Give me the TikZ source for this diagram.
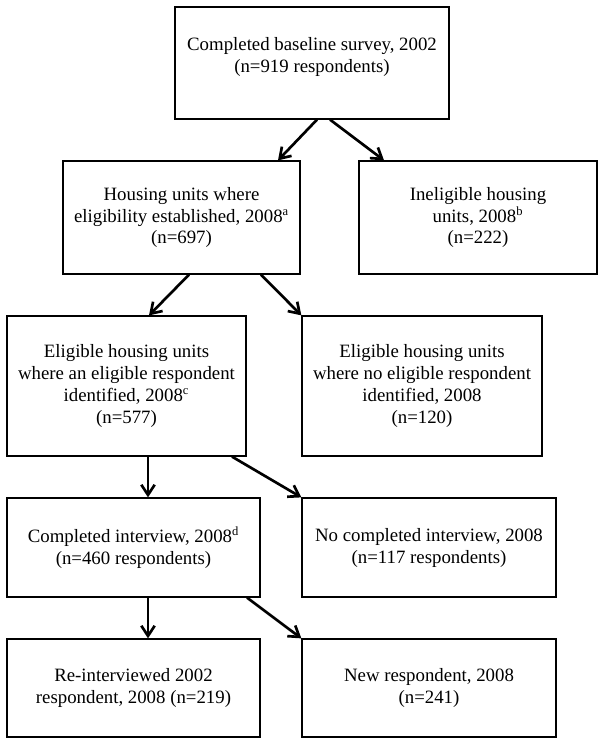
\documentclass[tikz,border=0pt]{standalone}
\usepackage{fontspec}
\setmainfont{Liberation Serif}
\usetikzlibrary{arrows.meta}
\def\pxu{0.6375pt}

\begin{document}
\begin{tikzpicture}[x=\pxu,y=-\pxu,
  txt/.style={align=center,inner sep=0pt,font=\fontsize{12}{14}\selectfont},
  box/.style={txt,draw,line width=0.8pt},
  flow/.style={line width=1.7pt,-{Straight Barb[length=6.5pt,width=8.5pt,line width=1.7pt]}}]
  \useasboundingbox (0,0) rectangle (604,745);
  % boxes
  \node[box,minimum width=274*\pxu,minimum height=112*\pxu] (baseline) at (312,63) {};
  \node[txt] (baselinetext) at (312,56.5) {Completed baseline survey, 2002\\(n=919 respondents)};
  \node[box,minimum width=237*\pxu,minimum height=113*\pxu] (established) at (181.5,217.5) {Housing units where\\eligibility established, 2008\textsuperscript{a}\\(n=697)};
  \node[box,minimum width=238*\pxu,minimum height=113*\pxu] (ineligible) at (478,217.5) {Ineligible housing\\units, 2008\textsuperscript{b}\\(n=222)};
  \node[box,minimum width=239*\pxu,minimum height=140*\pxu] (identified) at (126.5,386) {Eligible housing units\\where an eligible respondent\\identified, 2008\textsuperscript{c}\\(n=577)};
  \node[box,minimum width=240*\pxu,minimum height=140*\pxu] (notidentified) at (422,386) {Eligible housing units\\where no eligible respondent\\identified, 2008\\(n=120)};
  \node[box,minimum width=253*\pxu,minimum height=99*\pxu] (interview) at (133.5,547.5) {Completed interview, 2008\textsuperscript{d}\\(n=460 respondents)};
  \node[box,minimum width=254*\pxu,minimum height=99*\pxu] (nointerview) at (429,547.5) {No completed interview, 2008\\(n=117 respondents)};
  \node[box,minimum width=253*\pxu,minimum height=98*\pxu] (reinterviewed) at (133.5,688) {Re-interviewed 2002\\respondent, 2008 (n=219)};
  \node[box,minimum width=254*\pxu,minimum height=98*\pxu] (newresp) at (429,688) {New respondent, 2008\\(n=241)};
  % arrows
  \draw[flow] ([xshift=5*\pxu]baseline.south) -- ([xshift=96.5*\pxu]established.north);
  \draw[flow] ([xshift=18*\pxu]baseline.south) -- ([xshift=-94*\pxu]ineligible.north);
  \draw[flow] ([xshift=7.5*\pxu]established.south) -- ([xshift=22.5*\pxu]identified.north);
  \draw[flow] ([xshift=79.5*\pxu]established.south) -- (notidentified.north west);
  \draw[flow] ([xshift=21.5*\pxu]identified.south) -- ([xshift=14.5*\pxu]interview.north);
  \draw[flow] ([xshift=105.5*\pxu]identified.south) -- (nointerview.north west);
  \draw[flow] ([xshift=14.5*\pxu]interview.south) -- ([xshift=14.5*\pxu]reinterviewed.north);
  \draw[flow] ([xshift=113.5*\pxu]interview.south) -- (newresp.north west);
\end{tikzpicture}
\end{document}
